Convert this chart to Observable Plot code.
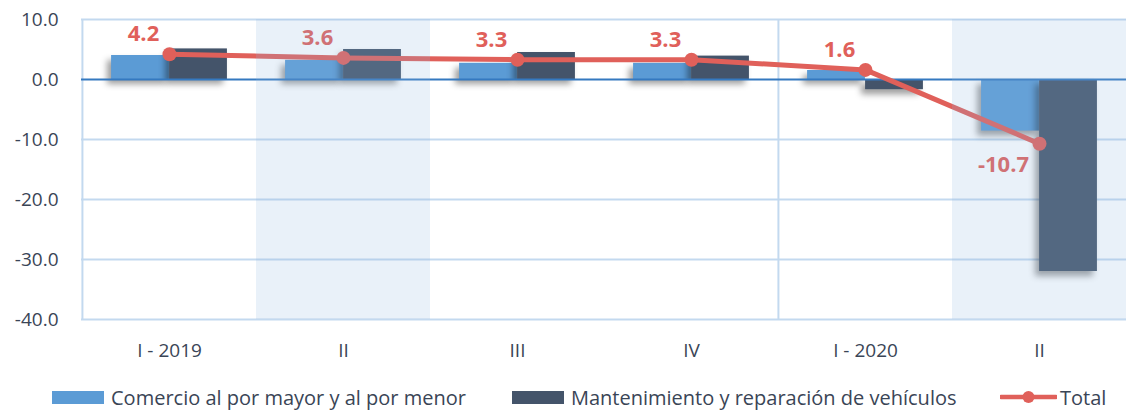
<!DOCTYPE html>
<html>
<head>
<meta charset="utf-8">
<script src="https://cdn.jsdelivr.net/npm/d3@7"></script>
<script src="https://cdn.jsdelivr.net/npm/@observablehq/plot@0.6"></script>
<style>
  html, body { margin: 0; padding: 0; background: #fff; }
  body { width: 1126px; height: 410px; overflow: hidden; font-family: "Open Sans", sans-serif; }
  #chart svg { display: block; }
  #chart g[aria-label="bar"] { filter: drop-shadow(-4px 5px 3px rgba(0,0,0,0.38)); }
  #legend { position: relative; height: 40px; font-size: 20px; color: #3A4556; }
  #legend .item { position: absolute; top: 0; height: 40px; display: flex; align-items: center; }
  #legend .sw { display: inline-block; height: 13px; margin-right: 7px; }
</style>
</head>
<body>
<div id="chart"></div>
<div id="legend"></div>
<script>
// ---- data ----
const quarterKeys = ["2019 I", "2019 II", "2019 III", "2019 IV", "2020 I", "2020 II"];
const quarterLabels = ["I - 2019", "II", "III", "IV", "I - 2020", "II"];
const seriesNames = ["Comercio al por mayor y al por menor", "Mantenimiento y reparación de vehículos", "Total"];
const comercio = [4.0, 3.2, 2.7, 2.7, 1.5, -8.6];
const mantenimiento = [5.1, 5.0, 4.5, 3.9, -1.7, -32.0];
const total = [4.2, 3.6, 3.3, 3.3, 1.6, -10.7];
const yTicks = [10, 0, -10, -20, -30, -40];
const shadedKeys = ["2019 II", "2020 II"];
const yearStartKeys = ["2019 I", "2020 I"];

// ---- styles ----
const cLight = "#5B9BD5", cDark = "#44546A", cRed = "#E0605A";
const cGrid = "#C3D9EF", cZero = "#3479C0", cText = "#3A4556";

const label = new Map(quarterKeys.map((k, i) => [k, quarterLabels[i]]));
const comRows = quarterKeys.map((q, i) => ({q, v: comercio[i]}));
const manRows = quarterKeys.map((q, i) => ({q, v: mantenimiento[i]}));
const totRows = quarterKeys.map((q, i) => ({q, v: total[i]}));

const W = 1126, ML = 81, MR = 0;
const bw = (W - ML - MR) / quarterKeys.length;
const barW = 58;
const half = bw / 2;

const chart = Plot.plot({
  width: W,
  height: 377,
  marginLeft: ML,
  marginRight: MR,
  marginTop: 19,
  marginBottom: 58,
  style: {fontFamily: "Open Sans, sans-serif", fontSize: "19px", color: cText, background: "#fff"},
  x: {type: "band", domain: quarterKeys, padding: 0, tickSize: 0, tickPadding: 24,
      tickFormat: d => label.get(d), label: null},
  y: {domain: [-40, 10], ticks: yTicks, tickSize: 0, tickPadding: 23,
      tickFormat: d => d.toFixed(1), label: null},
  marks: [
    Plot.ruleY(yTicks.filter(d => d !== 0), {stroke: cGrid, strokeWidth: 2}),
    Plot.ruleX(yearStartKeys, {x: d => d, dx: -half, stroke: cGrid, strokeWidth: 2}),
    Plot.barY(comRows, {x: "q", y: "v", fill: cLight, insetLeft: half - barW, insetRight: half}),
    Plot.barY(manRows, {x: "q", y: "v", fill: cDark, insetLeft: half, insetRight: half - barW}),
    Plot.ruleY([0], {stroke: cZero, strokeWidth: 2}),
    Plot.line(totRows, {x: "q", y: "v", stroke: cRed, strokeWidth: 5}),
    Plot.dot(totRows, {x: "q", y: "v", fill: cRed, r: 7, stroke: "none"}),
    Plot.text(totRows, {filter: d => d.v >= 0, x: "q", y: "v", text: d => d.v.toFixed(1),
      dx: -26, dy: -20, fill: cRed, fontSize: 22, fontWeight: "bold"}),
    Plot.text(totRows, {filter: d => d.v < 0, x: "q", y: "v", text: d => d.v.toFixed(1),
      dx: -36, dy: 21, fill: cRed, fontSize: 22, fontWeight: "bold"}),
    Plot.cell(shadedKeys, {x: d => d, fill: "#91B9E1", fillOpacity: 0.2})
  ]
});
document.getElementById("chart").appendChild(chart);

// ---- legend ----
const legend = document.getElementById("legend");
const items = [
  {name: seriesNames[0], color: cLight, left: 52, type: "bar"},
  {name: seriesNames[1], color: cDark, left: 512, type: "bar"},
  {name: seriesNames[2], color: cRed, left: 1000, type: "line"}
];
for (const it of items) {
  const div = document.createElement("div");
  div.className = "item";
  div.style.left = it.left + "px";
  if (it.type === "bar") {
    const sw = document.createElement("span");
    sw.className = "sw";
    sw.style.width = "52px";
    sw.style.background = it.color;
    div.appendChild(sw);
  } else {
    const ns = "http://www.w3.org/2000/svg";
    const s = document.createElementNS(ns, "svg");
    s.setAttribute("width", 57); s.setAttribute("height", 14);
    s.style.marginRight = "3px";
    const l = document.createElementNS(ns, "line");
    l.setAttribute("x1", 1); l.setAttribute("x2", 56); l.setAttribute("y1", 7); l.setAttribute("y2", 7);
    l.setAttribute("stroke", it.color); l.setAttribute("stroke-width", 4.5); l.setAttribute("stroke-linecap", "round");
    const c = document.createElementNS(ns, "circle");
    c.setAttribute("cx", 28.5); c.setAttribute("cy", 7); c.setAttribute("r", 6); c.setAttribute("fill", it.color);
    s.appendChild(l); s.appendChild(c);
    div.appendChild(s);
  }
  const t = document.createElement("span");
  t.textContent = it.name;
  div.appendChild(t);
  legend.appendChild(div);
}
</script>
</body>
</html>
